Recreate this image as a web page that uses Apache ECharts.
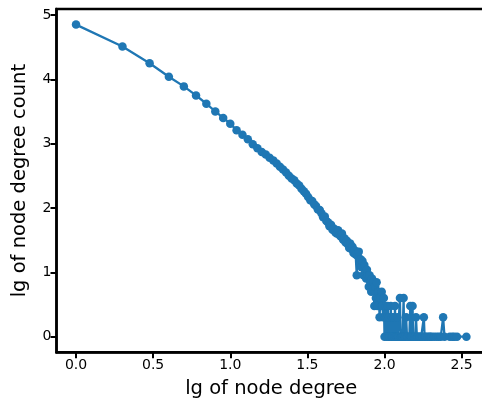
<!DOCTYPE html>
<html><head><meta charset="utf-8">
<script src="https://cdn.jsdelivr.net/npm/echarts@6/dist/echarts.min.js"></script>
<style>html,body{margin:0;padding:0;background:#fff}#c{width:482px;height:400px}</style>
</head><body><div id="c"></div>
<script>
// lg of node degree (x) and lg of node degree count (y)
const lgDegree = [
0,0.301,0.477,0.602,0.699,0.778,0.845,0.903,0.954,1.000,
1.041,1.079,1.114,1.146,1.176,1.204,1.230,1.255,1.279,1.301,
1.322,1.342,1.362,1.380,1.398,1.415,1.431,1.447,1.462,1.477,
1.491,1.505,1.519,1.531,1.544,1.556,1.568,1.580,1.591,1.602,
1.613,1.623,1.633,1.643,1.653,1.663,1.672,1.681,1.690,1.699,
1.708,1.716,1.724,1.732,1.740,1.748,1.756,1.763,1.771,1.778,
1.785,1.792,1.799,1.806,1.813,1.820,1.826,1.833,1.839,1.845,
1.851,1.857,1.863,1.869,1.875,1.881,1.886,1.892,1.898,1.903,
1.908,1.914,1.919,1.924,1.929,1.934,1.940,1.944,1.949,1.954,
1.959,1.964,1.968,1.973,1.978,1.982,1.987,1.991,1.996,2.000,
2.004,2.009,2.013,2.017,2.021,2.025,2.029,2.033,2.041,2.045,
2.049,2.053,2.061,2.064,2.068,2.072,2.079,2.083,2.086,2.093,
2.100,2.104,2.111,2.117,2.124,2.127,2.134,2.140,2.146,2.152,
2.161,2.167,2.170,2.176,2.182,2.185,2.193,2.199,2.204,2.210,
2.217,2.225,2.230,2.238,2.246,2.255,2.260,2.267,2.279,2.290,
2.297,2.307,2.322,2.338,2.352,2.365,2.380,2.389,2.423,2.439,
2.452,2.470,2.531
];
const lgCount = [
4.85,4.51,4.25,4.04,3.89,3.75,3.62,3.50,3.40,3.31,
3.21,3.14,3.07,2.99,2.93,2.87,2.83,2.78,2.74,2.69,
2.64,2.60,2.55,2.50,2.46,2.43,2.38,2.35,2.30,2.26,
2.22,2.17,2.12,2.11,2.06,2.03,1.978,1.968,1.919,1.857,
1.869,1.799,1.778,1.716,1.740,1.663,1.681,1.623,1.602,1.653,
1.580,1.556,1.602,1.505,1.531,1.462,1.491,1.431,1.380,1.447,
1.362,1.398,1.301,1.342,1.279,0.954,1.255,1.322,1.146,1.204,
1.079,1.176,0.954,1.114,1.000,0.903,1.041,0.954,0.778,0.954,
0.845,0.699,0.903,0.778,0.845,0.477,0.778,0.602,0.845,0.477,
0.699,0.602,0.301,0.602,0.477,0.699,0.477,0.301,0.602,0,
0.301,0.477,0,0.301,0.477,0,0.301,0,0.477,0,
0.301,0,0.301,0,0.477,0,0,0.301,0,0,
0.602,0,0,0,0.602,0,0,0.301,0,0,
0,0.477,0,0,0.477,0,0,0,0.301,0,
0,0,0,0,0,0.301,0,0,0,0,
0,0,0,0,0,0,0.301,0,0,0,
0,0,0
];
const xTicks = [0, 0.5, 1.0, 1.5, 2.0, 2.5];
const yTicks = [0, 1, 2, 3, 4, 5];
const xTitle = 'lg of node degree';
const yTitle = 'lg of node degree count';

const pts = lgDegree.map((x, i) => [x, lgCount[i]]);
const font = 'DejaVu Sans';
const chart = echarts.init(document.getElementById('c'), null, {renderer: 'canvas'});
chart.setOption({
  animation: false,
  grid: {left: 56.5, top: 9, width: 429.5, height: 343.3, outerBoundsMode: 'none', containLabel: false,
    show: true, borderColor: '#000', borderWidth: 2.5, backgroundColor: 'transparent'},
  xAxis: {
    type: 'value', min: -0.1266, max: 2.658,
    splitLine: {show: false},
    axisLine: {onZero: false, lineStyle: {color: '#000', width: 2.5}},
    axisTick: {show: true, length: 6, lineStyle: {color: '#000', width: 2}, customValues: xTicks},
    axisLabel: {color: '#000', fontSize: 14, fontFamily: font, margin: 6, customValues: xTicks,
      formatter: v => v.toFixed(1)},
    name: xTitle, nameLocation: 'middle', nameGap: 27,
    nameTextStyle: {color: '#000', fontSize: 19.5, fontFamily: font}
  },
  yAxis: {
    type: 'value', min: -0.2425, max: 5.0925,
    splitLine: {show: false},
    axisLine: {onZero: false, lineStyle: {color: '#000', width: 2.5}},
    axisTick: {show: true, length: 6, lineStyle: {color: '#000', width: 2}, customValues: yTicks},
    axisLabel: {color: '#000', fontSize: 14, fontFamily: font, margin: 5, customValues: yTicks,
      formatter: v => String(Math.round(v))},
    name: yTitle, nameLocation: 'middle', nameGap: 27, nameRotate: 90,
    nameTextStyle: {color: '#000', fontSize: 19.5, fontFamily: font}
  },
  series: [{
    type: 'line', data: pts,
    symbol: 'circle', symbolSize: 8.5, showSymbol: true, showAllSymbol: true,
    itemStyle: {color: '#1f77b4'},
    lineStyle: {color: '#1f77b4', width: 2.3},
    emphasis: {disabled: true}
  }]
});
</script></body></html>
